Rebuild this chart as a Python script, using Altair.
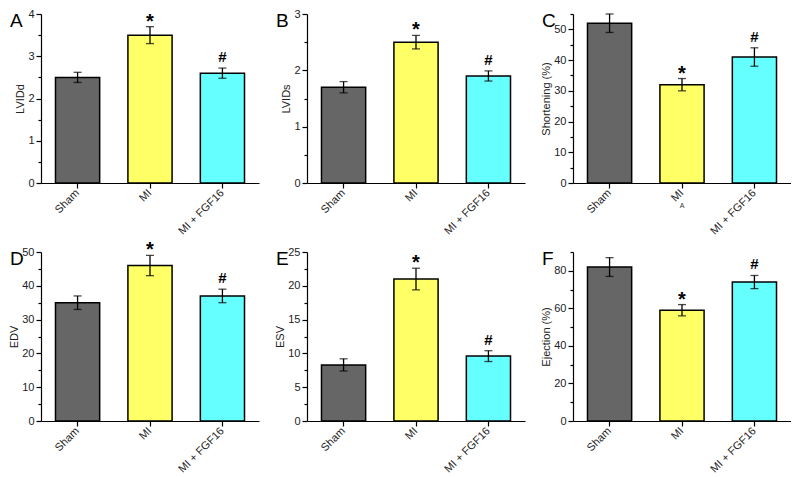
import altair as alt
import pandas as pd
import numpy as np

groups = ["Sham", "MI", "MI + FGF16"]
colors = ["#666666", "#ffff66", "#66ffff"]
sig = ["", "*", "#"]

lvidd = [2.5, 3.5, 2.6]
lvidd_err = [0.12, 0.2, 0.12]
lvids = [1.7, 2.5, 1.9]
lvids_err = [0.1, 0.12, 0.09]
shortening = [52, 32, 41]
shortening_err = [3, 2, 3]
edv = [35, 46, 37]
edv_err = [2, 3, 2]
esv = [8.3, 21, 9.6]
esv_err = [0.9, 1.6, 0.8]
ejection = [82, 59, 74]
ejection_err = [5, 3, 3.5]

W, H = 218, 169
FONT = "Liberation Sans"


def panel(letter, vals, errs, ytitle, ymax, major, minor, extra=None):
    df = pd.DataFrame({
        "group": groups,
        "value": vals,
        "lo": [v - e for v, e in zip(vals, errs)],
        "hi": [v + e for v, e in zip(vals, errs)],
        "sig": sig,
    })
    tick_vals = [float(round(v, 3)) for v in np.arange(0, ymax + 1e-9, minor)]
    xenc = alt.X("group:N", sort=groups,
                 scale=alt.Scale(paddingInner=0.39, paddingOuter=0.2),
                 axis=alt.Axis(title=None, labelAngle=-45, labelAlign="right",
                               labelBaseline="middle", labelPadding=3,
                               tickSize=5, domainColor="black", tickColor="black",
                               domainWidth=1.2, tickWidth=1.2, labelFontSize=11))
    yscale = alt.Scale(domain=[0, ymax], nice=False, zero=True)
    yaxis = alt.Axis(title=ytitle, values=tick_vals, tickCount=100, format=".0f",
                     labelOverlap=False, labelPadding=2,
                     labelExpr=f"abs(datum.value % {major}) < 1e-6 ? datum.label : ''",
                     tickSize={"condition": {"test": f"abs(datum.value % {major}) > 1e-6", "value": 3}, "value": 5},
                     grid=False, domainColor="black", tickColor="black",
                     domainWidth=1.2, tickWidth=1.2, labelFontSize=11,
                     titleFontSize=11, titleFontWeight="normal", titlePadding=2)
    base = alt.Chart(df)
    bars = base.mark_bar(stroke="black", strokeWidth=1.5).encode(
        x=xenc,
        y=alt.Y("value:Q", scale=yscale, axis=yaxis),
        color=alt.Color("group:N", scale=alt.Scale(domain=groups, range=colors), legend=None),
    )
    xs = alt.X("group:N", sort=groups)
    rule = base.mark_rule(color="black", strokeWidth=1.3).encode(
        x=xs, y=alt.Y("lo:Q"), y2="hi:Q")
    cap_lo = base.mark_tick(color="black", thickness=1.3, size=8).encode(x=xs, y="lo:Q")
    cap_hi = base.mark_tick(color="black", thickness=1.3, size=8).encode(x=xs, y="hi:Q")
    star = base.transform_filter("datum.sig == '*'").mark_text(
        font=FONT, fontSize=20, fontWeight="bold", baseline="alphabetic", dy=1, color="black"
    ).encode(x=xs, y="hi:Q", text="sig:N")
    hashm = base.transform_filter("datum.sig == '#'").mark_text(
        font=FONT, fontSize=15, fontWeight="bold", baseline="alphabetic", dy=-6, color="black"
    ).encode(x=xs, y="hi:Q", text="sig:N")
    lab = alt.Chart(pd.DataFrame({"t": [letter]})).mark_text(
        font=FONT, fontSize=19, align="left", baseline="top", color="black"
    ).encode(x=alt.value(-31), y=alt.value(-2), text="t:N")
    layers = [bars, rule, cap_lo, cap_hi, star, hashm, lab]
    if extra is not None:
        ex = alt.Chart(pd.DataFrame({"group": ["MI"], "t": [extra]})).mark_text(
            font=FONT, fontSize=7, color="#333"
        ).encode(x=xs, y=alt.value(H + 23), text="t:N")
        layers.append(ex)
    return alt.layer(*layers).properties(width=W, height=H)


pA = panel("A", lvidd, lvidd_err, "LVIDd", 4, 1, 0.5)
pB = panel("B", lvids, lvids_err, "LVIDs", 3, 1, 0.5)
pC = panel("C", shortening, shortening_err, "Shortening (%)", 55, 10, 5, extra="A")
pD = panel("D", edv, edv_err, "EDV", 50, 10, 5)
pE = panel("E", esv, esv_err, "ESV", 25, 5, 2.5)
pF = panel("F", ejection, ejection_err, "Ejection (%)", 90, 20, 10)

chart = alt.concat(pA, pB, pC, pD, pE, pF, columns=3,
                   spacing={"row": 69, "column": 48}, bounds="flush").properties(
    padding={"left": 0, "top": 0, "right": 0, "bottom": 0}
).configure_view(stroke=None).configure_axis(
    labelFont=FONT, titleFont=FONT, labelColor="#222", titleColor="#222"
)

chart.save("out.html", embed_options={"renderer": "svg", "actions": False})
